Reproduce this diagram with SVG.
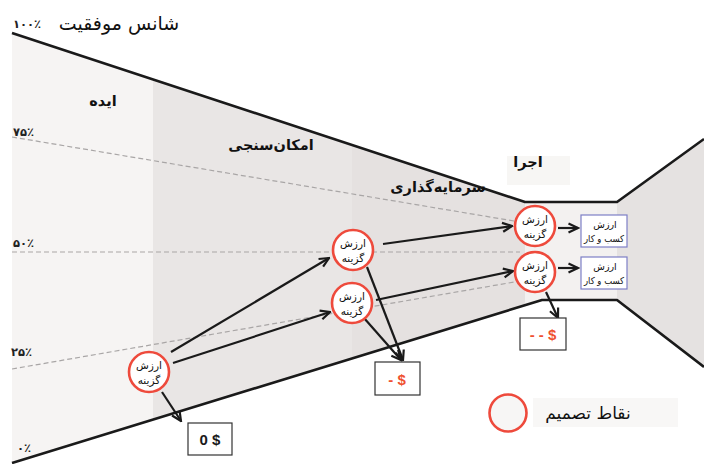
<svg xmlns="http://www.w3.org/2000/svg" width="704" height="464" viewBox="0 0 704 464">
  <style>
    .fa { font-family: "DejaVu Sans", sans-serif; fill: #111; }
    .pct { font-family: "DejaVu Sans", sans-serif; font-size: 11.5px; font-weight: bold; fill: #222; }
    .stage { font-family: "DejaVu Sans", sans-serif; font-size: 14.5px; font-weight: bold; fill: #111; text-anchor: middle; }
    .dec circle { fill: #ffffff; stroke: #ee4a3c; stroke-width: 2.6; }
    .dec text { font-family: "DejaVu Sans", sans-serif; font-size: 10.5px; fill: #111; text-anchor: middle; }
    .biz rect { fill: #ffffff; stroke: #7d7fc6; stroke-width: 1.2; }
    .biz text { font-family: "DejaVu Sans", sans-serif; font-size: 9.5px; fill: #111; text-anchor: middle; }
    .cash rect { fill: #ffffff; stroke: #333; stroke-width: 1.2; }
    .cash text { font-family: "Liberation Sans", sans-serif; font-size: 15px; font-weight: bold; text-anchor: middle; }
    .edge { stroke: #1a1a1a; stroke-width: 2.2; fill: none; marker-end: url(#arrow); }
    .grid { stroke: #a9a6a6; stroke-width: 1.2; stroke-dasharray: 5 3; fill: none; }
    .outline { stroke: #1a1a1a; stroke-width: 2.6; fill: none; stroke-linejoin: round; }
  </style>
  <defs>
    <marker id="arrow" viewBox="0 0 12 12" refX="10.5" refY="6" markerWidth="12" markerHeight="12" markerUnits="userSpaceOnUse" orient="auto">
      <path d="M1,1.5 L10.5,6 L1,10.5" fill="none" stroke="#1a1a1a" stroke-width="2.2" stroke-linejoin="miter"/>
    </marker>
    <clipPath id="funnel">
      <polygon points="12,33 525,202 617,202 704,139 704,367 617,300 542,300 12,463"/>
    </clipPath>
  </defs>

  <rect width="704" height="464" fill="#ffffff"/>

  <!-- stage columns inside the funnel -->
  <g id="stages" clip-path="url(#funnel)">
    <rect x="12" y="0" width="141" height="464" fill="#f6f4f3"/>
    <rect x="153" y="0" width="199" height="464" fill="#e9e6e5"/>
    <rect x="352" y="0" width="173" height="464" fill="#e5e1e0"/>
    <rect x="525" y="0" width="92" height="464" fill="#f3f1f0"/>
    <rect x="617" y="0" width="87" height="464" fill="#e5e2e1"/>
  </g>

  <!-- probability guide lines -->
  <g id="guides">
    <line class="grid" x1="12" y1="137" x2="520" y2="222"/>
    <line class="grid" x1="12" y1="252" x2="520" y2="252"/>
    <line class="grid" x1="12" y1="369" x2="520" y2="281"/>
  </g>

  <!-- funnel outline -->
  <g id="outline">
    <polyline class="outline" points="12,33 525,202 617,202 704,139"/>
    <polyline class="outline" points="12,463 542,300 617,300 704,367"/>
  </g>

  <!-- axis -->
  <g id="axis">
    <text class="fa" x="119" y="30" font-size="19" text-anchor="middle">شانس موفقیت</text>
    <text class="pct" x="13" y="28">۱۰۰٪</text>
    <text class="pct" x="13" y="136">۷۵٪</text>
    <text class="pct" x="13" y="247">۵۰٪</text>
    <text class="pct" x="11" y="356">۲۵٪</text>
    <text class="pct" x="17" y="452">۰٪</text>
  </g>

  <!-- stage names -->
  <g id="stage-labels">
    <text class="stage" x="103" y="106">ایده</text>
    <text class="stage" x="271" y="150">امکان‌سنجی</text>
    <text class="stage" x="438" y="192">سرمایه‌گذاری</text>
    <rect x="507" y="156" width="63" height="29" fill="#f7f6f4"/>
    <text class="stage" x="528" y="167">اجرا</text>
  </g>

  <!-- connectors -->
  <g id="connectors">
    <path class="edge" d="M171,352 L329,258"/>
    <path class="edge" d="M173,363 L330,312"/>
    <path class="edge" d="M162,392 L181,421"/>
    <path class="edge" d="M383,244 L512,226"/>
    <path class="edge" d="M376,300 L513,271"/>
    <path class="edge" d="M367,267 L403,360"/>
    <path class="edge" d="M364,318 L401,360"/>
    <path class="edge" d="M558,228 L578,228"/>
    <path class="edge" d="M558,268 L578,268"/>
    <path class="edge" d="M546,292 L558,318"/>
  </g>

  <!-- decision points -->
  <g id="option-0" class="dec">
    <circle cx="149" cy="372" r="20"/>
    <text x="149" y="369">ارزش</text>
    <text x="149" y="384">گزینه</text>
  </g>
  <g id="option-1" class="dec">
    <circle cx="353" cy="250" r="20"/>
    <text x="353" y="247">ارزش</text>
    <text x="353" y="262">گزینه</text>
  </g>
  <g id="option-2" class="dec">
    <circle cx="352" cy="303" r="20"/>
    <text x="352" y="300">ارزش</text>
    <text x="352" y="315">گزینه</text>
  </g>
  <g id="option-3" class="dec">
    <circle cx="535" cy="226" r="20"/>
    <text x="535" y="223">ارزش</text>
    <text x="535" y="238">گزینه</text>
  </g>
  <g id="option-4" class="dec">
    <circle cx="535" cy="272" r="20"/>
    <text x="535" y="269">ارزش</text>
    <text x="535" y="284">گزینه</text>
  </g>

  <!-- business value outcomes -->
  <g id="business-1" class="biz">
    <rect x="581" y="215" width="46" height="32"/>
    <text x="605" y="228">ارزش</text>
    <text x="604" y="242" textLength="40" lengthAdjust="spacingAndGlyphs">کسب و کار</text>
  </g>
  <g id="business-2" class="biz">
    <rect x="581" y="257" width="46" height="32"/>
    <text x="605" y="270">ارزش</text>
    <text x="604" y="284" textLength="40" lengthAdjust="spacingAndGlyphs">کسب و کار</text>
  </g>

  <!-- cash outcomes -->
  <g id="cash-zero" class="cash">
    <rect x="188" y="423" width="44" height="32"/>
    <text x="210" y="445" fill="#1a1a1a">0 $</text>
  </g>
  <g id="cash-minus" class="cash">
    <rect x="375" y="362" width="45" height="33"/>
    <text x="397" y="385" fill="#ef5130">- $</text>
  </g>
  <g id="cash-minus2" class="cash">
    <rect x="520" y="318" width="46" height="32"/>
    <text x="543" y="340" fill="#ef5130">- - $</text>
  </g>

  <!-- legend -->
  <g id="legend">
    <circle cx="508" cy="413" r="18.5" fill="#f7f6f5" stroke="#ee4a3c" stroke-width="2.6"/>
    <rect x="533" y="398" width="145" height="29" fill="#f8f7f6"/>
    <text class="fa" x="588" y="419" font-size="17" text-anchor="middle">نقاط تصمیم</text>
  </g>
</svg>
